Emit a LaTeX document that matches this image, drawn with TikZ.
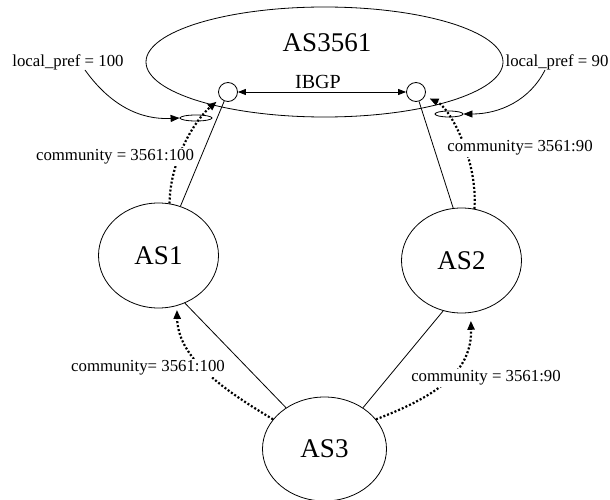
\documentclass[tikz,border=0pt]{standalone}
\usepackage{fontspec}
\setmainfont{Liberation Serif}
\usetikzlibrary{arrows.meta,shapes.geometric}
\begin{document}
\begin{tikzpicture}[x=1pt,y=-1pt,
  every node/.style={inner sep=0pt},
  asnode/.style={ellipse,draw,line width=0.8pt,font=\fontsize{27}{30}\selectfont},
  port/.style={circle,draw,line width=0.8pt,minimum size=19pt},
  tagmark/.style={ellipse,draw,line width=0.8pt,minimum height=6pt},
  lbl/.style={font=\fontsize{16.8}{19}\selectfont,fill=white,inner sep=2pt},
  link/.style={line width=0.8pt},
  tip/.style={-{Triangle[length=9pt,width=7pt]}},
  advert/.style={tip,line width=2.2pt,dash pattern=on 2pt off 2pt}]
\useasboundingbox (0,0) rectangle (610,500);

% autonomous systems
\node[asnode,minimum width=357pt,minimum height=110pt] (core) at (324.5,62) {};
\node[font=\fontsize{27}{30}\selectfont] (coretitle) at (327,43) {AS3561};
\node[asnode,minimum width=120pt,minimum height=105pt] (as1) at (158.5,255.5) {AS1};
\node[asnode,minimum width=120pt,minimum height=105pt] (as2) at (461.5,260.5) {AS2};
\node[asnode,minimum width=124pt,minimum height=104pt] (as3) at (324.5,449) {AS3};

% border routers and policy markers
\node[port] (c1) at (228,92) {};
\node[port] (c2) at (416,92) {};
\node[tagmark,minimum width=32pt] (tag1) at (196,118) {};
\node[tagmark,minimum width=28pt] (tag2) at (449,114) {};

% IBGP session
\draw[link,{Triangle[length=8pt,width=6pt]}-{Triangle[length=8pt,width=6pt]}] (c1) -- (c2);
\node[font=\fontsize{20}{23}\selectfont] (ibgp) at (318,82) {IBGP};

% physical links
\draw[link] (as1.66) -- (c1);
\draw[link] (as2.99) -- (c2);
\draw[link] (as1.-61) -- (as3.133);
\draw[link] (as3.47) -- (as2.-110);

% local preference settings
\node[lbl,fill=none] (lp1) at (68,62) {local\_pref = 100};
\node[lbl,fill=none] (lp2) at (557,62) {local\_pref = 90};
\coordinate (lp1s) at (85,70);
\coordinate (lp2s) at (545,70);
\draw[link,tip] (lp1s) .. controls (110,105) and (140,120) .. (tag1.west);
\draw[link,tip] (lp2s) .. controls (530,100) and (500,114) .. (tag2.east);

% community advertisements
\draw[advert,shorten >=5pt] (as1.78) .. controls (170,160) and (195,120) .. (c1);
\draw[advert,shorten >=5pt] (as2.76) .. controls (478,160) and (450,108) .. (c2);
\draw[advert,shorten >=4pt] (as3.150) .. controls (215,385) and (178,355) .. (as1.-70);
\draw[advert,shorten >=8pt] (as3.30) .. controls (440,395) and (472,370) .. (as2.-80);

\node[lbl] (cm1) at (115,157) {community = 3561:100};
\node[lbl] (cm2) at (520,148) {community= 3561:90};
\node[lbl] (cm3) at (148,368) {community= 3561:100};
\node[lbl] (cm4) at (486,378) {community = 3561:90};
\end{tikzpicture}
\end{document}
